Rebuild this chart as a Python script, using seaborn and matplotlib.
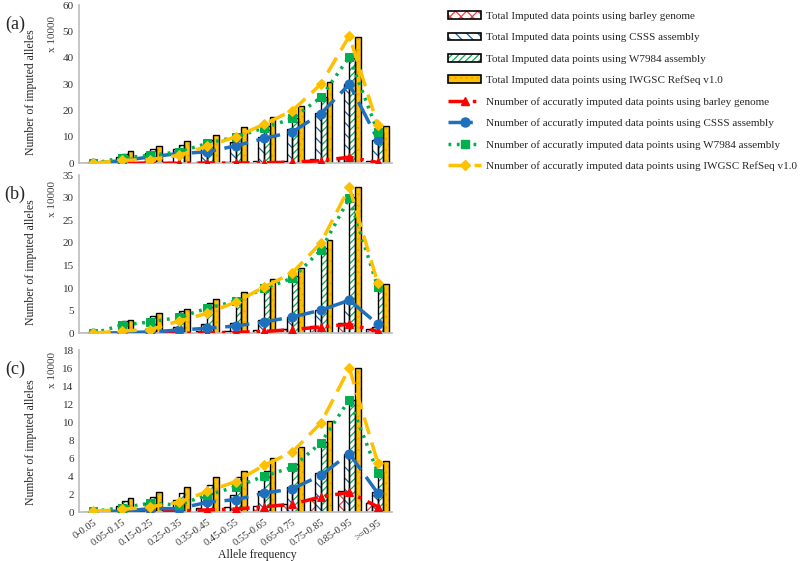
import numpy as np
import pandas as pd
import seaborn as sns
import matplotlib.pyplot as plt
from matplotlib.patches import Rectangle, Patch
from matplotlib.lines import Line2D

# allele frequency bins
cats = ["0-0.05", "0.05-0.15", "0.15-0.25", "0.25-0.35", "0.35-0.45", "0.45-0.55",
        "0.55-0.65", "0.65-0.75", "0.75-0.85", "0.85-0.95", ">=0.95"]
refs = ["barley genome", "CSSS assembly", "W7984 assembly", "IWGSC RefSeq v1.0"]

# panel (a), values x 10000
a_total = {
    "barley genome":     [0.05, 0.3, 0.4, 0.5, 0.5, 0.6, 0.8, 1.0, 1.5, 2.0, 1.0],
    "CSSS assembly":     [0.1, 2.4, 4.0, 5.5, 6.5, 8.0, 10.0, 13.0, 19.0, 30.0, 9.0],
    "W7984 assembly":    [0.2, 3.4, 5.4, 7.0, 9.0, 11.0, 14.0, 17.0, 25.0, 40.0, 12.0],
    "IWGSC RefSeq v1.0": [0.3, 4.7, 6.5, 8.4, 10.8, 13.7, 17.5, 21.7, 30.8, 48.0, 14.3],
}
a_accurate = {
    "barley genome":     [0.0, 0.0, 0.0, 0.0, 0.1, 0.1, 0.2, 0.4, 1.0, 2.3, 0.3],
    "CSSS assembly":     [0.0, 1.0, 2.4, 3.7, 4.3, 6.6, 9.4, 11.9, 18.8, 30.0, 9.0],
    "W7984 assembly":    [0.0, 2.0, 3.0, 4.3, 7.5, 10.0, 13.4, 17.0, 25.0, 40.3, 11.9],
    "IWGSC RefSeq v1.0": [0.0, 1.1, 1.4, 3.0, 6.5, 10.0, 14.8, 20.0, 30.0, 48.3, 14.4],
}

# panel (b)
b_total = {
    "barley genome":     [0.05, 0.2, 0.25, 0.3, 0.5, 0.6, 0.8, 1.0, 1.5, 2.2, 1.0],
    "CSSS assembly":     [0.05, 0.3, 0.9, 1.3, 2.0, 2.3, 2.9, 3.6, 5.1, 7.3, 1.4],
    "W7984 assembly":    [0.1, 2.7, 3.8, 4.9, 6.6, 7.8, 10.4, 12.7, 18.8, 30.2, 10.2],
    "IWGSC RefSeq v1.0": [0.2, 3.0, 4.4, 5.4, 7.5, 9.1, 12.0, 14.4, 20.6, 32.3, 10.9],
}
b_accurate = {
    "barley genome":     [0.0, 0.0, 0.0, 0.0, 0.1, 0.2, 0.4, 0.8, 1.4, 2.0, 0.4],
    "CSSS assembly":     [0.0, 0.1, 0.3, 0.7, 1.1, 1.6, 2.5, 3.6, 5.1, 7.3, 2.0],
    "W7984 assembly":    [0.0, 1.8, 2.5, 3.5, 5.5, 7.1, 9.9, 12.2, 18.4, 29.9, 10.2],
    "IWGSC RefSeq v1.0": [0.0, 0.5, 0.8, 2.7, 4.4, 6.9, 10.2, 13.4, 20.0, 32.3, 11.1],
}

# panel (c)
c_total = {
    "barley genome":     [0.02, 0.2, 0.3, 0.35, 0.45, 0.55, 0.7, 0.9, 1.4, 2.4, 1.0],
    "CSSS assembly":     [0.03, 0.7, 1.0, 1.3, 1.7, 1.9, 2.4, 2.8, 4.3, 6.5, 2.2],
    "W7984 assembly":    [0.05, 1.2, 1.7, 2.1, 3.0, 3.9, 4.6, 5.4, 7.8, 12.5, 4.5],
    "IWGSC RefSeq v1.0": [0.1, 1.6, 2.2, 2.8, 3.9, 4.6, 6.0, 7.2, 10.1, 16.0, 5.7],
}
c_accurate = {
    "barley genome":     [0.0, 0.05, 0.1, 0.15, 0.25, 0.35, 0.6, 0.9, 1.7, 2.2, 0.6],
    "CSSS assembly":     [0.05, 0.1, 0.4, 0.4, 1.1, 1.4, 2.1, 2.6, 4.1, 6.5, 2.1],
    "W7984 assembly":    [0.1, 0.5, 1.0, 0.8, 1.9, 2.8, 4.0, 5.0, 7.7, 12.5, 4.4],
    "IWGSC RefSeq v1.0": [0.1, 0.3, 0.6, 1.1, 2.3, 3.4, 5.2, 6.7, 9.9, 16.0, 5.5],
}

# styles
bar_fill = {"barley genome": "white", "CSSS assembly": "white",
            "W7984 assembly": "white", "IWGSC RefSeq v1.0": "#FFC000"}
bar_hatchcol = {"barley genome": "#F04040", "CSSS assembly": "#1F5FA8",
                "W7984 assembly": "#00B050", "IWGSC RefSeq v1.0": "#E8AC00"}
bar_hatch = {"barley genome": "xxx", "CSSS assembly": "\\\\\\",
             "W7984 assembly": "/////", "IWGSC RefSeq v1.0": "..."}
line_col = {"barley genome": "#FF0000", "CSSS assembly": "#1F6FBF",
            "W7984 assembly": "#00B050", "IWGSC RefSeq v1.0": "#FFC000"}
line_ls = {"barley genome": (0, (5, 2, 1, 2)), "CSSS assembly": (0, (7, 2.5)),
           "W7984 assembly": (0, (0.8, 1.6)), "IWGSC RefSeq v1.0": (0, (5, 2.5))}
line_mk = {"barley genome": "^", "CSSS assembly": "o",
           "W7984 assembly": "s", "IWGSC RefSeq v1.0": "D"}
line_ms = {"barley genome": 6, "CSSS assembly": 6.5, "W7984 assembly": 6, "IWGSC RefSeq v1.0": 5.5}

sns.set_theme(style="white")
plt.rcParams["font.family"] = ["Liberation Serif", "DejaVu Serif"]
plt.rcParams["hatch.linewidth"] = 0.9

fig = plt.figure(figsize=(8, 5.61), dpi=100)
ax_a = fig.add_axes([0.099, 0.709, 0.391, 0.282])
ax_b = fig.add_axes([0.099, 0.406, 0.391, 0.282])
ax_c = fig.add_axes([0.099, 0.087, 0.391, 0.289])


def draw(ax, totals, accurate, ymax, step, lab, ylab_y, mult_y, bottom=False):
    rows = []
    for r in refs:
        for c, v in zip(cats, totals[r]):
            rows.append((c, r, v))
    df = pd.DataFrame(rows, columns=["freq", "ref", "val"])
    sns.barplot(data=df, x="freq", y="val", hue="ref", order=cats, hue_order=refs,
                width=0.8, errorbar=None, legend=False, saturation=1, ax=ax)
    bars = list(ax.patches)
    for i, p in enumerate(bars):
        r = refs[i // len(cats)]
        p.set_facecolor(bar_fill[r])
        p.set_edgecolor(bar_hatchcol[r])
        p.set_hatch(bar_hatch[r])
        p.set_linewidth(0)
        ax.add_patch(Rectangle((p.get_x(), p.get_y()), p.get_width(), p.get_height(),
                               fill=False, ec="black", lw=1.0, zorder=p.get_zorder()))
    x = np.arange(len(cats))
    for r in refs:
        sns.lineplot(x=x, y=accurate[r], ax=ax, color=line_col[r], linestyle=line_ls[r],
                     lw=2.5, marker=line_mk[r], markersize=line_ms[r],
                     markeredgecolor=line_col[r], zorder=5)
    ax.set_xlim(-0.5, len(cats) - 0.5)
    ax.set_ylim(0, ymax)
    ax.set_yticks(np.arange(0, ymax + 0.1, step))
    ax.tick_params(axis="both", length=0, labelsize=8, pad=4, labelcolor="#333333")
    for s in ["top", "right"]:
        ax.spines[s].set_visible(False)
    ax.spines["left"].set_color("#BFBFBF")
    ax.spines["bottom"].set_color("#BFBFBF")
    ax.set_ylabel("Number of imputed alleles", fontsize=8.5)
    ax.yaxis.set_label_coords(-0.134, ylab_y)
    ax.text(-0.086, mult_y, "x 10000", rotation=90, transform=ax.transAxes,
            fontsize=8, color="#404040", ha="center", va="center")
    ax.text(-0.205, 1.0 - 0.12 * (0.282 / ax.get_position().height), lab,
            transform=ax.transAxes, fontsize=13, ha="center", va="center")
    ax.set_xticks(x)
    if bottom:
        ax.set_xticklabels(cats, rotation=35, ha="right", rotation_mode="anchor", fontsize=7.5)
        ax.set_xlabel("Allele frequency", fontsize=8.5)
        ax.xaxis.set_label_coords(0.57, -0.225)
    else:
        ax.set_xticklabels([])
        ax.set_xlabel("")


draw(ax_a, a_total, a_accurate, 60, 10, "(a)", 0.45, 0.82)
draw(ax_b, b_total, b_accurate, 35, 5, "(b)", 0.45, 0.85)
draw(ax_c, c_total, c_accurate, 18, 2, "(c)", 0.43, 0.88, bottom=True)

handles = []
labels = []
for r in refs:
    handles.append((Patch(fc=bar_fill[r], ec=bar_hatchcol[r], hatch=bar_hatch[r], lw=0),
                    Patch(fill=False, ec="black", lw=1.2)))
    labels.append("Total Imputed data points using " + r)
for r in refs:
    handles.append(Line2D([], [], color=line_col[r], linestyle=line_ls[r], lw=2.5,
                          marker=line_mk[r], markersize=line_ms[r]))
    labels.append("Nnumber of accuratly imputed data points using " + r)

fig.legend(handles, labels, loc="upper left", bbox_to_anchor=(0.553, 0.99),
           frameon=False, fontsize=8, handlelength=3.0, handleheight=0.7,
           labelspacing=1.05, handletextpad=0.4, borderpad=0)

fig.savefig("out.png", dpi=100)
